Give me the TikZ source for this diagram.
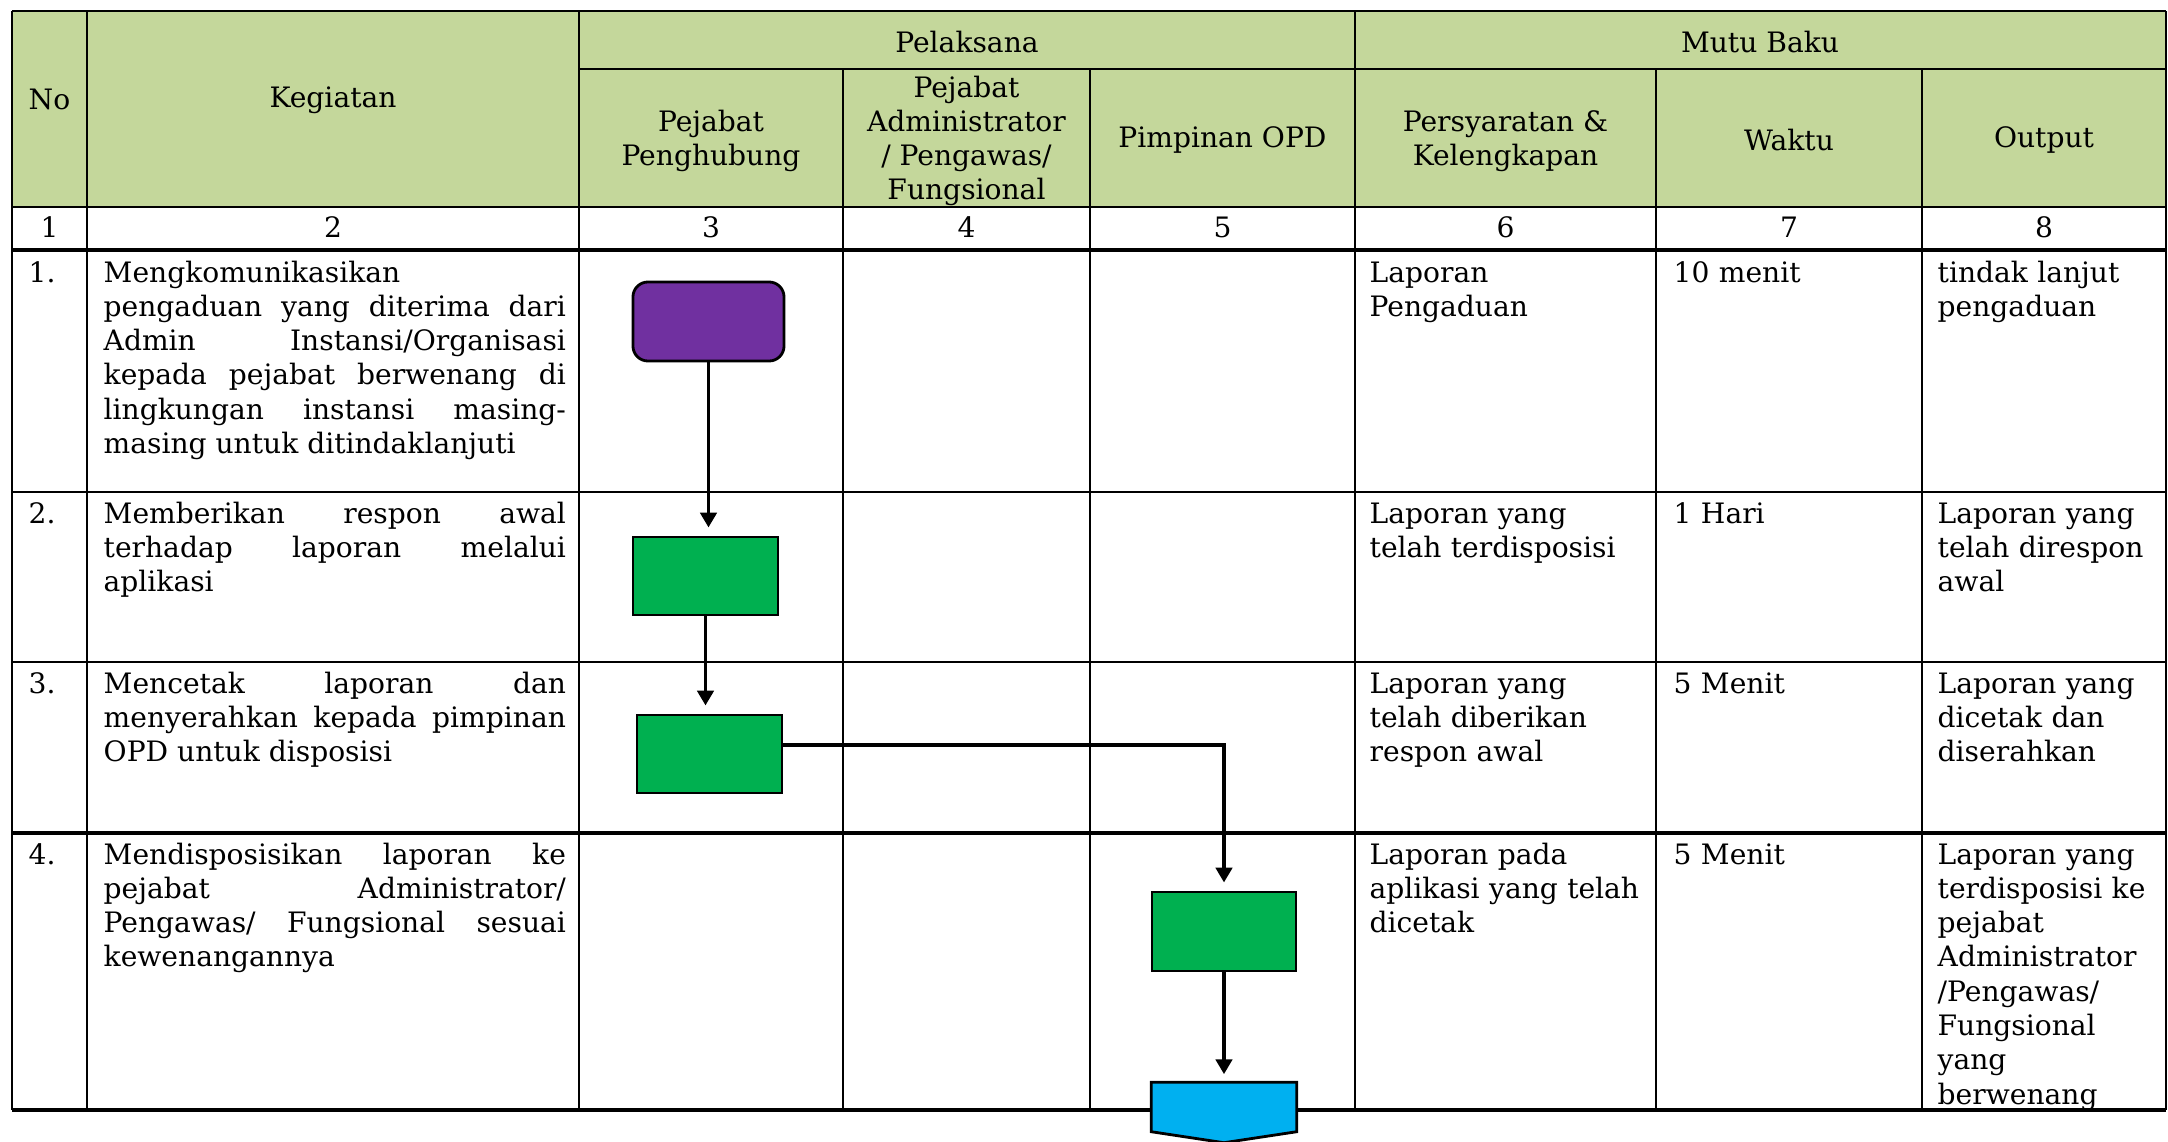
\documentclass[tikz,border=0pt]{standalone}
\usepackage{fontspec}
\setmainfont{DejaVu Serif}
\usetikzlibrary{arrows.meta}
\definecolor{hdr}{HTML}{C4D79B}
\definecolor{proc}{HTML}{00B050}
\definecolor{startc}{HTML}{7030A0}
\definecolor{offp}{HTML}{00B0F0}
\newcommand{\bodyfnt}{\fontsize{8}{9.75}\selectfont}
\begin{document}
\begin{tikzpicture}[x=0.01cm,y=-0.01cm,
  grid/.style={line width=0.65pt},
  gridthick/.style={line width=0.9pt},
  hd/.style={font=\bodyfnt, align=center, inner sep=0pt},
  cell/.style={font=\bodyfnt, anchor=base west, inner sep=0pt, align=left, text width=2.8cm},
  ocell/.style={cell, text width=2.25cm},
  ncell/.style={cell, text width=0.5cm},
  kcell/.style={font=\bodyfnt, anchor=base west, inner sep=0pt, align=justify, text width=4.62cm},
  box/.style={draw, line width=0.8pt, inner sep=0pt},
  proc/.style={box, fill=proc, minimum width=1.45cm, minimum height=0.78cm},
  flow/.style={line width=1.1pt, -{Triangle[length=4.2pt,width=4.6pt]}, shorten >=2.3pt}
]
\useasboundingbox (0,0) rectangle (2168,1142);
% header background
\fill[hdr] (12,11) rectangle (2166,207);
% horizontal lines
\draw[grid] (12,11) -- (2166,11);
\draw[grid] (579,69) -- (2166,69);
\draw[grid] (12,207) -- (2166,207);
\draw[gridthick] (12,250) -- (2166,250);
\draw[grid] (12,492) -- (2166,492);
\draw[grid] (12,662) -- (2166,662);
\draw[gridthick] (12,833) -- (2166,833);
\draw[gridthick] (12,1110) -- (2166,1110);
% vertical lines
\foreach \x in {12,87,579,1355,2166} \draw[grid] (\x,11) -- (\x,1110);
\foreach \x in {843,1090,1656,1922} \draw[grid] (\x,69) -- (\x,1110);

% header texts
\node[hd] (hNo) at (49.5,99) {No};
\node[hd] (hKeg) at (333,100) {Kegiatan};
\node[hd] (hPel) at (967,42) {Pelaksana};
\node[hd] (hMutu) at (1760,42) {Mutu Baku};
\node[hd] (hPP) at (711,141) {Pejabat\\Penghubung};
\node[hd] (hPA) at (966.5,141) {Pejabat\\Administrator\\/ Pengawas/\\Fungsional};
\node[hd] (hPO) at (1222.5,140) {Pimpinan OPD};
\node[hd] (hPK) at (1505.5,141) {Persyaratan \&\\Kelengkapan};
\node[hd] (hW) at (1789,140) {Waktu};
\node[hd] (hO) at (2044,140) {Output};
% number row
\foreach \x/\n [count=\i] in {49.5/1,333/2,711/3,966.5/4,1222.5/5,1505.5/6,1789/7,2044/8}
  \node[hd, anchor=base] (num\i) at (\x,237) {\n};

% row 1
\node[ncell] (n1) at (28,282) {1.};
\node[kcell] (k1) at (103,282) {Mengkomunikasikan\newline pengaduan yang diterima dari\linebreak Admin Instansi/Organisasi\linebreak kepada pejabat berwenang di\linebreak lingkungan instansi masing-\linebreak masing untuk ditindaklanjuti};
\node[cell] (s1) at (1369,282) {Laporan\\Pengaduan};
\node[cell] (w1) at (1673,282) {10 menit};
\node[ocell] (o1) at (1937,282) {tindak lanjut\\pengaduan};
% row 2
\node[ncell] (n2) at (28,523) {2.};
\node[kcell] (k2) at (103,523) {Memberikan respon awal\linebreak terhadap laporan melalui\linebreak aplikasi};
\node[cell] (s2) at (1369,523) {Laporan yang\\telah terdisposisi};
\node[cell] (w2) at (1673,523) {1 Hari};
\node[ocell] (o2) at (1937,523) {Laporan yang\\telah direspon\\awal};
% row 3
\node[ncell] (n3) at (28,693) {3.};
\node[kcell] (k3) at (103,693) {Mencetak laporan dan\linebreak menyerahkan kepada pimpinan\linebreak OPD untuk disposisi};
\node[cell] (s3) at (1369,693) {Laporan yang\\telah diberikan\\respon awal};
\node[cell] (w3) at (1673,693) {5 Menit};
\node[ocell] (o3) at (1937,693) {Laporan yang\\dicetak dan\\diserahkan};
% row 4
\node[ncell] (n4) at (28,864) {4.};
\node[kcell] (k4) at (103,864) {Mendisposisikan laporan ke\linebreak pejabat Administrator/\linebreak Pengawas/ Fungsional sesuai\linebreak kewenangannya};
\node[cell] (s4) at (1369,864) {Laporan pada\\aplikasi yang telah\\dicetak};
\node[cell] (w4) at (1673,864) {5 Menit};
\node[ocell] (o4) at (1937,864) {Laporan yang\\terdisposisi ke\\pejabat\\Administrator\\/Pengawas/\\Fungsional\\yang\\berwenang};

% flow shapes
\node[box, fill=startc, rounded corners=0.15cm, minimum width=1.51cm, minimum height=0.79cm] (p1) at (708.5,321.5) {};
\node[proc] (g2) at (705.5,576) {};
\node[proc] (g3) at (709.5,754) {};
\node[proc, minimum width=1.44cm, minimum height=0.79cm] (g4) at (1224,931.5) {};
\node[inner sep=0pt, minimum width=1.44cm, minimum height=0.59cm] (off) at (1224,1112.5) {};
\draw[line width=0.8pt, fill=offp] (off.north west) -- (off.north east) -- ([yshift=0.11cm]off.south east) -- (off.south) -- ([yshift=0.11cm]off.south west) -- cycle;

% connectors
\draw[flow] (p1.south) -- (p1.south |- g2.north);
\draw[flow] (g2.south) -- (g2.south |- g3.north);
\draw[flow] ([yshift=0.09cm]g3.east) -| (g4.north);
\draw[flow] (g4.south) -- (off.north);
\end{tikzpicture}
\end{document}
